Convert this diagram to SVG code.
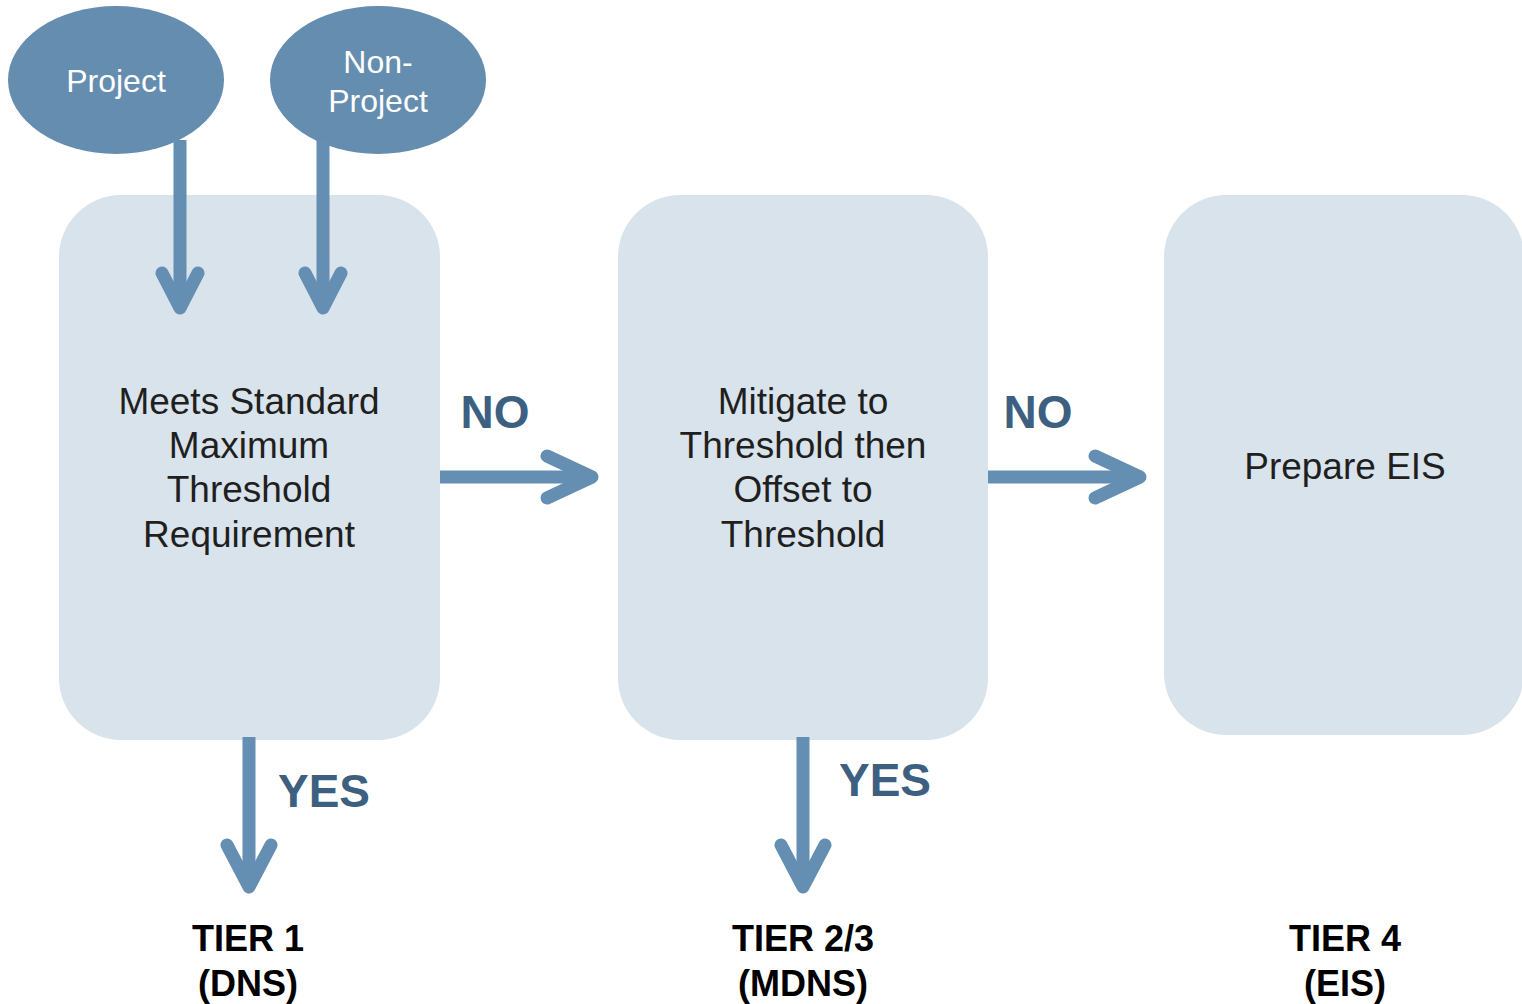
<svg xmlns="http://www.w3.org/2000/svg" width="1522" height="1004" viewBox="0 0 1522 1004">
<style>
.box{fill:#d9e3ec}
.ell{fill:#658db0}
.conn{fill:none;stroke:#658eb3;stroke-width:13;stroke-linecap:round;stroke-linejoin:round}
.shaft{fill:none;stroke:#658eb3;stroke-width:13}
.t{font-family:"Liberation Sans",Arial,sans-serif;font-size:37px;fill:#1f1f1f;text-anchor:middle}
.w{font-family:"Liberation Sans",Arial,sans-serif;font-size:32px;fill:#ffffff;text-anchor:middle}
.lbl{font-family:"Liberation Sans",Arial,sans-serif;font-size:46px;font-weight:bold;fill:#3d5f80;text-anchor:middle}
.tier{font-family:"Liberation Sans",Arial,sans-serif;font-size:36px;font-weight:bold;fill:#000;text-anchor:middle}
</style>
<rect width="1522" height="1004" fill="#ffffff"/>
<g id="box1"><rect class="box" x="59" y="195" width="381" height="545" rx="62"/>
<text class="t" x="249" y="414">Meets Standard</text><text class="t" x="249" y="458">Maximum</text><text class="t" x="249" y="502">Threshold</text><text class="t" x="249" y="547">Requirement</text></g>
<g id="box2"><rect class="box" x="618" y="195" width="370" height="545" rx="62"/>
<text class="t" x="803" y="414">Mitigate to</text><text class="t" x="803" y="458">Threshold then</text><text class="t" x="803" y="502">Offset to</text><text class="t" x="803" y="547">Threshold</text></g>
<g id="box3"><rect class="box" x="1164" y="195" width="360" height="540" rx="62"/>
<text class="t" x="1345" y="479">Prepare EIS</text></g>
<g id="project"><ellipse class="ell" cx="116" cy="80" rx="108" ry="74"/><text class="w" x="116" y="92">Project</text></g>
<g id="nonproject"><ellipse class="ell" cx="378" cy="80" rx="108" ry="74"/><text class="w" x="378" y="73">Non-</text><text class="w" x="378" y="112">Project</text></g>
<g id="connectors">
<line class="shaft" x1="180" y1="140" x2="180" y2="305"/><polyline class="conn" points="162,273 180,308 198,273"/>
<line class="shaft" x1="323" y1="140" x2="323" y2="305"/><polyline class="conn" points="305,273 323,308 341,273"/>
<line class="shaft" x1="440" y1="477" x2="590" y2="477"/><polyline class="conn" points="547,456 592,477 547,498"/>
<line class="shaft" x1="988" y1="477" x2="1138" y2="477"/><polyline class="conn" points="1095,456 1140,477 1095,498"/>
<line class="shaft" x1="249" y1="737" x2="249" y2="885"/><polyline class="conn" points="227,845 249,887 271,845"/>
<line class="shaft" x1="803" y1="737" x2="803" y2="885"/><polyline class="conn" points="781,845 803,887 825,845"/>
</g>
<g id="labels">
<text class="lbl" x="495" y="428">NO</text><text class="lbl" x="1038" y="428">NO</text>
<text class="lbl" x="324" y="807">YES</text><text class="lbl" x="885" y="796">YES</text>
</g>
<g id="tiers">
<text class="tier" x="248" y="951">TIER 1</text><text class="tier" x="248" y="996">(DNS)</text>
<text class="tier" x="803" y="951">TIER 2/3</text><text class="tier" x="803" y="996">(MDNS)</text>
<text class="tier" x="1345" y="951">TIER 4</text><text class="tier" x="1345" y="996">(EIS)</text>
</g>
</svg>
